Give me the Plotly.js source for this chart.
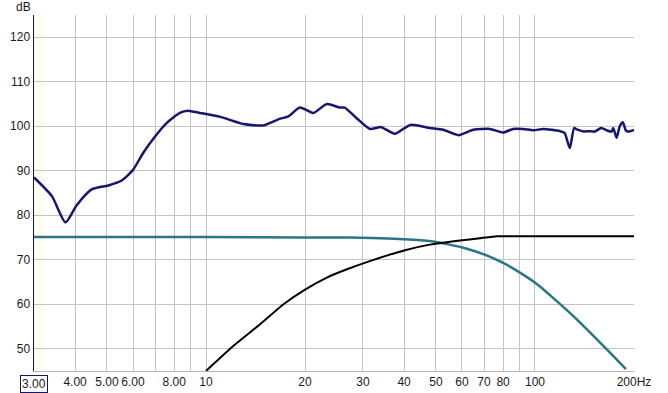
<!DOCTYPE html>
<html>
<head>
<meta charset="utf-8">
<script src="https://cdn.plot.ly/plotly-3.0.1.min.js"></script>
<style>
html,body{margin:0;padding:0;background:#fff;}
#chart{width:668px;height:393px;}
</style>
</head>
<body>
<div id="chart"></div>
<script>
// Measured response (navy)
var navyFreq = [3.0, 3.4, 3.74, 4.04, 4.49, 5.05, 5.54, 6.0, 6.44, 7.0, 7.59, 8.33, 8.8, 9.59, 11.05, 13.0, 14.95, 16.8, 17.8, 19.3, 21.2, 23.3, 25.5, 26.4, 28.7, 31.5, 34.1, 37.5, 41.8, 47.9, 52.6, 58.6, 64.9, 72.9, 80, 85.8, 92, 99, 106, 119, 123, 127.6, 131.5, 134, 141, 146, 152, 159, 165, 171, 173, 177, 181, 185, 189, 192, 200];
var navyDb = [88.5, 84.3, 78.4, 82.2, 85.8, 86.7, 87.8, 90.2, 94.0, 97.7, 100.7, 103.0, 103.5, 103.0, 102.1, 100.5, 100.2, 101.7, 102.2, 104.2, 103.0, 105.0, 104.2, 104.2, 101.8, 99.4, 99.8, 98.3, 100.3, 99.6, 99.2, 98.0, 99.2, 99.4, 98.6, 99.4, 99.4, 99.1, 99.4, 98.9, 98.5, 95.1, 99.6, 99.3, 98.8, 98.9, 98.8, 99.6, 99.1, 98.8, 99.6, 97.4, 100.0, 100.9, 99.0, 98.8, 99.2];

// Low-pass target (teal)
var tealFreq = [3, 10, 20, 27.4, 32, 40, 47.9, 55, 60.6, 70, 80, 90, 101.5, 116.5, 134, 154.3, 177, 189];
var tealDb = [75.1, 75.1, 75.0, 75.0, 74.9, 74.6, 74.2, 73.4, 72.7, 71.2, 69.3, 67.1, 64.5, 60.7, 56.6, 52.1, 47.6, 45.4];

// High-pass target (black)
var blackFreq = [10, 12.1, 14.6, 17.2, 20, 23.3, 26.7, 31.8, 40, 47.9, 60, 66, 76.5, 80, 200];
var blackDb = [45.0, 50.6, 55.5, 60.0, 63.3, 66.0, 67.8, 69.8, 72.1, 73.4, 74.4, 74.7, 75.3, 75.3, 75.3];

// Axis ticks
var xTickVals = [3, 4, 5, 6, 7, 8, 9, 10, 20, 30, 40, 50, 60, 70, 80, 90, 100, 200];
var xTickText = ['', '4.00', '5.00', '6.00', '', '8.00', '', '10', '20', '30', '40', '50', '60', '70', '80', '', '100', '200Hz'];
var yTickVals = [50, 60, 70, 80, 90, 100, 110, 120];
var yTickText = ['50', '60', '70', '80', '90', '100', '110', '120'];

var font = {family: 'Liberation Sans, Arial, sans-serif', size: 12, color: '#1a1a1a'};

var traces = [
  {x: navyFreq, y: navyDb, type: 'scatter', mode: 'lines',
   line: {color: '#16166e', width: 2.5, shape: 'spline', smoothing: 0.6}, hoverinfo: 'skip'},
  {x: tealFreq, y: tealDb, type: 'scatter', mode: 'lines',
   line: {color: '#2a7686', width: 2.5, shape: 'spline', smoothing: 0.6}, hoverinfo: 'skip'},
  {x: blackFreq, y: blackDb, type: 'scatter', mode: 'lines',
   line: {color: '#000000', width: 2, shape: 'spline', smoothing: 0.5}, hoverinfo: 'skip'}
];

var layout = {
  width: 668, height: 393,
  margin: {l: 34, r: 34, t: 15, b: 22, pad: 0},
  paper_bgcolor: '#ffffff', plot_bgcolor: '#ffffff',
  showlegend: false,
  font: font,
  xaxis: {
    type: 'log',
    range: [Math.log10(3) - 1e-6, Math.log10(200) + 1e-6],
    tickmode: 'array', tickvals: xTickVals, ticktext: xTickText,
    showgrid: true, gridcolor: '#c4c4c4', gridwidth: 1,
    showline: true, linecolor: '#b8b8b8', linewidth: 1,
    ticks: '', zeroline: false, automargin: false,
    tickfont: font
  },
  yaxis: {
    range: [45, 125],
    tickmode: 'array', tickvals: yTickVals, ticktext: yTickText,
    showgrid: true, gridcolor: '#c4c4c4', gridwidth: 1,
    showline: true, linecolor: '#14144a', linewidth: 1.5,
    ticks: '', zeroline: false, automargin: false,
    tickfont: font
  },
  shapes: [
    {type: 'rect', xref: 'x', yref: 'paper', x0: 3, x1: 3.22, y0: 0, y1: 1,
     fillcolor: 'rgba(255,250,215,0.45)', line: {width: 0}, layer: 'below'}
  ],
  annotations: [
    {text: 'dB', xref: 'paper', yref: 'paper', x: -0.018, y: 1.022,
     xanchor: 'center', yanchor: 'middle', showarrow: false, font: font},
    {text: '3.00', xref: 'x', yref: 'paper', x: Math.log10(3), y: -0.037,
     xanchor: 'center', yanchor: 'middle', showarrow: false, font: font,
     bordercolor: '#16166e', borderwidth: 1, borderpad: 1, bgcolor: '#ffffff'}
  ]
};

Plotly.newPlot('chart', traces, layout, {staticPlot: true, displayModeBar: false});
</script>
</body>
</html>
